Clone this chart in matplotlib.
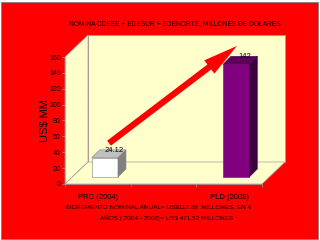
import numpy as np
import matplotlib
matplotlib.use("Agg")
import matplotlib.pyplot as plt
from matplotlib.patches import Polygon, Rectangle, FancyArrowPatch
from matplotlib.transforms import IdentityTransform
from matplotlib import font_manager

# datos
categorias = ["PRD (2004)", "PLD (2008)"]
posiciones = [0, 2]
valores = [24.12, 142]
etiquetas = ["24.12", "142"]
yticks = [0, 20, 40, 60, 80, 100, 120, 140, 160]
titulo = "NOMINA CDEEE + EDESUR + EDENORTE, MILLONES DE DOLARES"
nota1 = "INCREMENTO NOMINAL ANUAL= US$117.88  MILLONES, EN 4"
nota2 = "AÑOS ( 2004 - 2008)= US$ 471.52 MILLONES"

fuentes = [f.name for f in font_manager.fontManager.ttflist]
familia = ["Liberation Sans Narrow", "Liberation Sans"] if "Liberation Sans Narrow" in fuentes else ["Liberation Sans"]
plt.rcParams["font.family"] = familia

W, H = 320, 240
fig = plt.figure(figsize=(3.2, 2.4), dpi=100, facecolor="white")

# fondo rojo con borde
fig.patches.append(Rectangle((1, 1), W - 3, H - 3, transform=IdentityTransform(),
                             facecolor="#FF0000", edgecolor="#808080", lw=0.6, zorder=-10))

# plano frontal del grafico
x0, x1, y0, y1 = 65, 262, 57, 184
ax = fig.add_axes([x0 / W, 1 - y1 / H, (x1 - x0) / W, (y1 - y0) / H])
ax.patch.set_visible(False)
ax.set_xlim(-0.5, 2.5)
ax.set_ylim(0, 160)

fig.canvas.draw()
ta = ax.transAxes
td = ax.transData

def fp(u, v, dx=0, dy=0):
    p = ta.transform((u, v))
    return (p[0] + dx, p[1] + dy)

DX, DY = 23, 22
pared = "#FFFFCC"
borde = "#A0A0A0"
# pared de fondo, pared izquierda y piso
pols = [
    [fp(0, 0, DX, DY), fp(1, 0, DX, DY), fp(1, 1, DX, DY), fp(0, 1, DX, DY)],
    [fp(0, 0), fp(0, 0, DX, DY), fp(0, 1, DX, DY), fp(0, 1)],
    [fp(0, 0), fp(1, 0), fp(1, 0, DX, DY), fp(0, 0, DX, DY)],
]
for p in pols:
    ax.add_patch(Polygon(p, closed=True, transform=IdentityTransform(),
                         facecolor=pared, edgecolor=borde, lw=0.5, clip_on=False, zorder=0))

# barras 3D
ancho = 0.4
BX, BY = 7, 7      # desplazamiento de la cara frontal
PX, PY = 8, 8      # profundidad de la barra
colores = [("#FFFFFF", "#C0C0C0", "#808080"), ("#800080", "#5C005C", "#400040")]
for xc, v, (cf, ct, cl) in zip(posiciones, valores, colores):
    a = td.transform((xc - ancho / 2, 0))
    b = td.transform((xc + ancho / 2, v))
    ax_, ay_ = a[0] + BX, a[1] + BY
    bx_, by_ = b[0] + BX, b[1] + BY
    frente = [(ax_, ay_), (bx_, ay_), (bx_, by_), (ax_, by_)]
    arriba = [(ax_, by_), (bx_, by_), (bx_ + PX, by_ + PY), (ax_ + PX, by_ + PY)]
    lado = [(bx_, ay_), (bx_ + PX, ay_ + PY), (bx_ + PX, by_ + PY), (bx_, by_)]
    for p, c in [(frente, cf), (arriba, ct), (lado, cl)]:
        ax.add_patch(Polygon(p, closed=True, transform=IdentityTransform(),
                             facecolor=c, edgecolor="#808080" if cf == "#FFFFFF" else c,
                             lw=0.4, clip_on=False, zorder=3))

# flecha
t0 = td.transform((posiciones[0], valores[0]))
t1 = td.transform((posiciones[1], valores[1]))
flecha = FancyArrowPatch((t0[0] + 9, t0[1] + 20), (t1[0] + 10, t1[1] + 27),
                         transform=IdentityTransform(),
                         arrowstyle="simple,head_length=25,head_width=12,tail_width=4.5",
                         mutation_scale=1, color="#FF0000", lw=0, zorder=4, clip_on=False)
ax.add_patch(flecha)

# etiquetas de valores
for xc, v, t in zip(posiciones, valores, etiquetas):
    p = td.transform((xc, v))
    ax.text(p[0] + 16, p[1] + 11, t, transform=IdentityTransform(), ha="center", va="bottom",
            fontsize=5.5, color="black", zorder=5)

# ejes
for s in ["top", "right"]:
    ax.spines[s].set_visible(False)
ax.spines["left"].set_color(borde)
ax.spines["bottom"].set_color(borde)
ax.spines["left"].set_linewidth(0.5)
ax.spines["bottom"].set_linewidth(0.5)
ax.set_yticks(yticks)
ax.tick_params(axis="y", labelsize=5, length=2, width=0.5, color=borde, pad=1)
ax.set_xticks(posiciones)
ax.set_xticklabels(categorias)
ax.set_xticks([-0.5, 0.5, 1.5, 2.5], minor=True)
ax.tick_params(axis="x", which="major", length=0, labelsize=5.5, pad=7)
ax.tick_params(axis="x", which="minor", length=2, width=0.5, color=borde)
ax.set_ylabel("US$ MM", fontsize=8, labelpad=-1)

fig.text(175 / W, 1 - 24 / H, titulo, ha="center", va="center", fontsize=4.8)
fig.text(158 / W, 1 - 207 / H, nota1, ha="center", va="center", fontsize=4.6)
fig.text(167 / W, 1 - 218 / H, nota2, ha="center", va="center", fontsize=4.6)

fig.savefig("out.png", dpi=100, facecolor=fig.get_facecolor())
